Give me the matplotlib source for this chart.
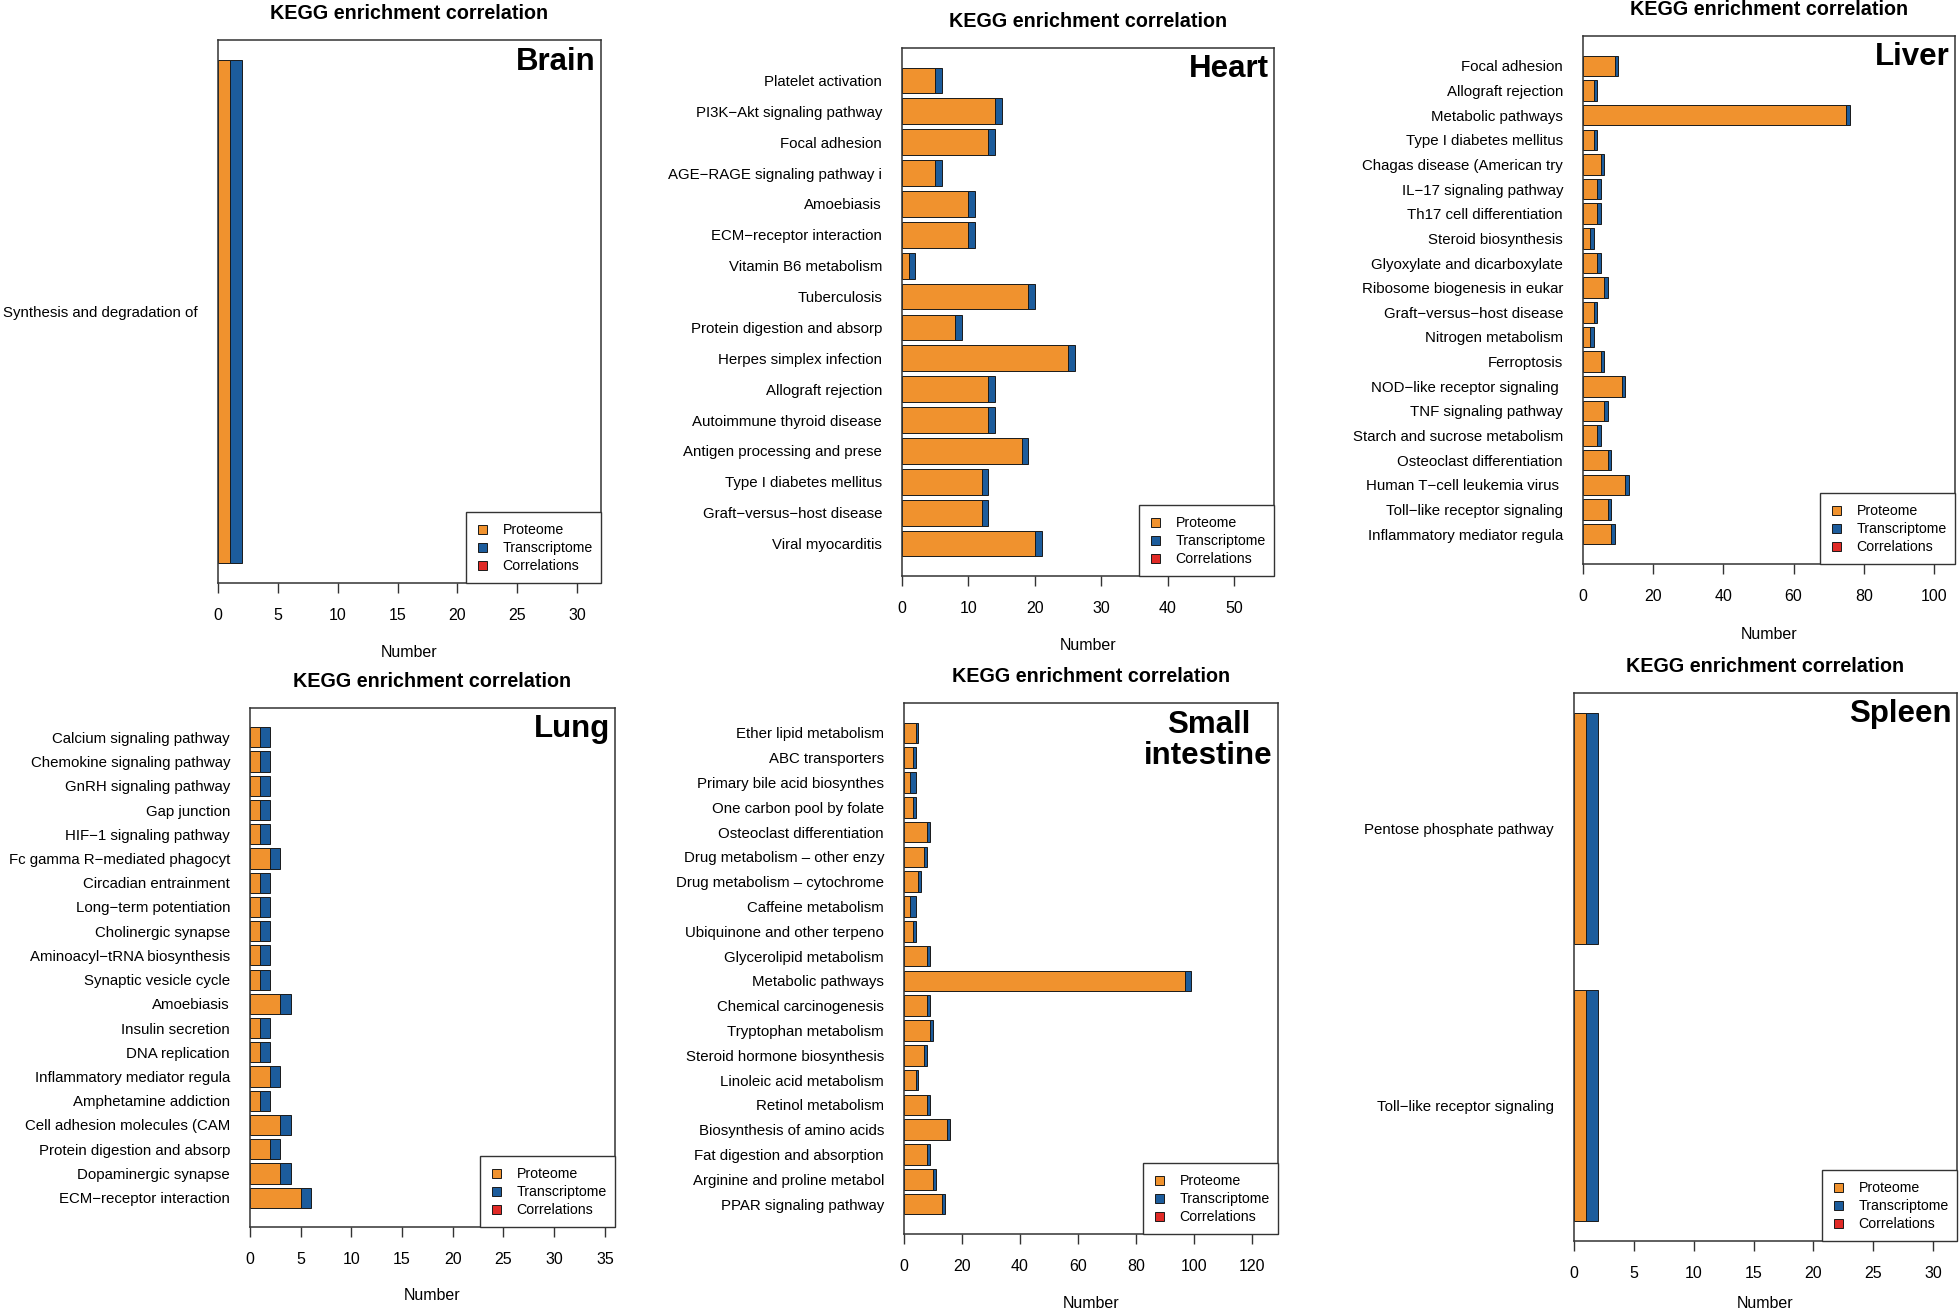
import matplotlib.pyplot as plt
from matplotlib.patches import Patch, Rectangle
from matplotlib.legend_handler import HandlerPatch
from matplotlib.ticker import MultipleLocator

plt.rcParams['font.family'] = ['Liberation Sans', 'DejaVu Sans']

ORANGE = '#F0922E'
BLUE = '#1C5C9C'
RED = '#E02A26'
EDGE = '#1a1a1a'
FRAME = '#333333'

# values, terms listed top to bottom
brain_terms = ['Synthesis and degradation of']
brain_prot = [1]
brain_trans = [1]

heart_terms = ['Platelet activation', 'PI3K\u2212Akt signaling pathway', 'Focal adhesion',
               'AGE\u2212RAGE signaling pathway i', 'Amoebiasis', 'ECM\u2212receptor interaction',
               'Vitamin B6 metabolism', 'Tuberculosis', 'Protein digestion and absorp',
               'Herpes simplex infection', 'Allograft rejection', 'Autoimmune thyroid disease',
               'Antigen processing and prese', 'Type I diabetes mellitus',
               'Graft\u2212versus\u2212host disease', 'Viral myocarditis']
heart_prot = [5, 14, 13, 5, 10, 10, 1, 19, 8, 25, 13, 13, 18, 12, 12, 20]
heart_trans = [1, 1, 1, 1, 1, 1, 1, 1, 1, 1, 1, 1, 1, 1, 1, 1]

liver_terms = ['Focal adhesion', 'Allograft rejection', 'Metabolic pathways',
               'Type I diabetes mellitus', 'Chagas disease (American try',
               'IL\u221217 signaling pathway', 'Th17 cell differentiation', 'Steroid biosynthesis',
               'Glyoxylate and dicarboxylate', 'Ribosome biogenesis in eukar',
               'Graft\u2212versus\u2212host disease', 'Nitrogen metabolism', 'Ferroptosis',
               'NOD\u2212like receptor signaling ', 'TNF signaling pathway',
               'Starch and sucrose metabolism', 'Osteoclast differentiation',
               'Human T\u2212cell leukemia virus ', 'Toll\u2212like receptor signaling',
               'Inflammatory mediator regula']
liver_prot = [9, 3, 75, 3, 5, 4, 4, 2, 4, 6, 3, 2, 5, 11, 6, 4, 7, 12, 7, 8]
liver_trans = [1, 1, 1, 1, 1, 1, 1, 1, 1, 1, 1, 1, 1, 1, 1, 1, 1, 1, 1, 1]

lung_terms = ['Calcium signaling pathway', 'Chemokine signaling pathway', 'GnRH signaling pathway',
              'Gap junction', 'HIF\u22121 signaling pathway', 'Fc gamma R\u2212mediated phagocyt',
              'Circadian entrainment', 'Long\u2212term potentiation', 'Cholinergic synapse',
              'Aminoacyl\u2212tRNA biosynthesis', 'Synaptic vesicle cycle', 'Amoebiasis',
              'Insulin secretion', 'DNA replication', 'Inflammatory mediator regula',
              'Amphetamine addiction', 'Cell adhesion molecules (CAM',
              'Protein digestion and absorp', 'Dopaminergic synapse', 'ECM\u2212receptor interaction']
lung_prot = [1, 1, 1, 1, 1, 2, 1, 1, 1, 1, 1, 3, 1, 1, 2, 1, 3, 2, 3, 5]
lung_trans = [1, 1, 1, 1, 1, 1, 1, 1, 1, 1, 1, 1, 1, 1, 1, 1, 1, 1, 1, 1]

si_terms = ['Ether lipid metabolism', 'ABC transporters', 'Primary bile acid biosynthes',
            'One carbon pool by folate', 'Osteoclast differentiation',
            'Drug metabolism \u2013 other enzy', 'Drug metabolism \u2013 cytochrome',
            'Caffeine metabolism', 'Ubiquinone and other terpeno', 'Glycerolipid metabolism',
            'Metabolic pathways', 'Chemical carcinogenesis', 'Tryptophan metabolism',
            'Steroid hormone biosynthesis', 'Linoleic acid metabolism', 'Retinol metabolism',
            'Biosynthesis of amino acids', 'Fat digestion and absorption',
            'Arginine and proline metabol', 'PPAR signaling pathway']
si_prot = [4, 3, 2, 3, 8, 7, 5, 2, 3, 8, 97, 8, 9, 7, 4, 8, 15, 8, 10, 13]
si_trans = [1, 1, 2, 1, 1, 1, 1, 2, 1, 1, 2, 1, 1, 1, 1, 1, 1, 1, 1, 1]

spleen_terms = ['Pentose phosphate pathway', 'Toll\u2212like receptor signaling']
spleen_prot = [1, 1]
spleen_trans = [1, 1]

tissues = ['Brain', 'Heart', 'Liver', 'Lung', 'Small\nintestine', 'Spleen']
tick_steps = [5, 10, 20, 5, 20, 5]

# axes boxes in pixels: left, top, right, bottom
boxes = [(218, 40, 601, 583), (902, 48, 1274, 576), (1583, 36, 1955, 564),
         (250, 708, 615, 1227), (904, 703, 1278, 1234), (1574, 693, 1957, 1241)]
# distance (px) from the bottom of each box to the "Number" label
number_gap = [69, 69, 69.5, 67.5, 68, 61]

data = [(brain_terms, brain_prot, brain_trans), (heart_terms, heart_prot, heart_trans),
        (liver_terms, liver_prot, liver_trans), (lung_terms, lung_prot, lung_trans),
        (si_terms, si_prot, si_trans), (spleen_terms, spleen_prot, spleen_trans)]

W, H = 1960, 1310
fig = plt.figure(figsize=(W / 100, H / 100), dpi=100)
px = 0.72  # points per pixel


def square_handle(legend, orig_handle, xdescent, ydescent, width, height, fontsize):
    # small square, right side of the handle box, centred on the text
    s = 9 * px
    return Rectangle((-xdescent + width - s, 0.358 * fontsize - s / 2), s, s)


for name, step, (l, t, r, b), gap, (terms, prot, trans) in zip(tissues, tick_steps, boxes,
                                                              number_gap, data):
    ax = fig.add_axes([l / W, 1 - b / H, (r - l) / W, (b - t) / H])
    n = len(terms)
    # like R barplot: width 1, space 0.2, first term at the top
    ypos = [0.7 + 1.2 * (n - 1 - i) for i in range(n)]
    ax.barh(ypos, prot, height=1, color=ORANGE, edgecolor=EDGE, linewidth=0.7)
    ax.barh(ypos, trans, left=prot, height=1, color=BLUE, edgecolor=EDGE, linewidth=0.7)

    rng = 1.2 * n - 0.2
    ax.set_ylim(0.2 - 0.04 * rng, 1.2 * n + 0.04 * rng)
    ax.set_xlim(0, max(p + q for p, q in zip(prot, trans)) + 30)

    ax.set_yticks(ypos)
    ax.set_yticklabels(terms, fontsize=10.8)
    ax.tick_params(axis='y', length=0, pad=14.4)
    ax.xaxis.set_major_locator(MultipleLocator(step))
    ax.tick_params(axis='x', length=7.2, width=1.0, pad=10.5, labelsize=11.5, color=FRAME)
    for s in ax.spines.values():
        s.set_color(FRAME)
        s.set_linewidth(1.1)

    ax.annotate('KEGG enrichment correlation', xy=(0.5, 1), xycoords='axes fraction',
                xytext=(0, 21 * px), textcoords='offset points', ha='center', va='baseline',
                fontsize=14.2, fontweight='bold')
    ax.annotate('Number', xy=(0.5, 0), xycoords='axes fraction',
                xytext=(0, -(gap + 5.5) * px), textcoords='offset points', ha='center',
                va='baseline', fontsize=11.5)
    ax.annotate(name, xy=(1, 1), xycoords='axes fraction',
                xytext=(-5 * px, -6.5 * px), textcoords='offset points', ha='right', va='top',
                multialignment='center', linespacing=1.05, fontsize=22.5, fontweight='bold')

    handles = [Patch(facecolor=ORANGE, edgecolor=EDGE, linewidth=0.7, label='Proteome'),
               Patch(facecolor=BLUE, edgecolor=EDGE, linewidth=0.7, label='Transcriptome'),
               Patch(facecolor=RED, edgecolor=EDGE, linewidth=0.7, label='Correlations')]
    leg = ax.legend(handles=handles, loc='lower right', borderaxespad=0, fancybox=False,
                    framealpha=1, edgecolor=FRAME, fontsize=10.2, borderpad=0.59,
                    handletextpad=1.06, labelspacing=0, handlelength=0.89, handleheight=1.58,
                    handler_map={Patch: HandlerPatch(patch_func=square_handle)})
    leg.get_frame().set_linewidth(1.0)

fig.savefig('out.png', dpi=100)
